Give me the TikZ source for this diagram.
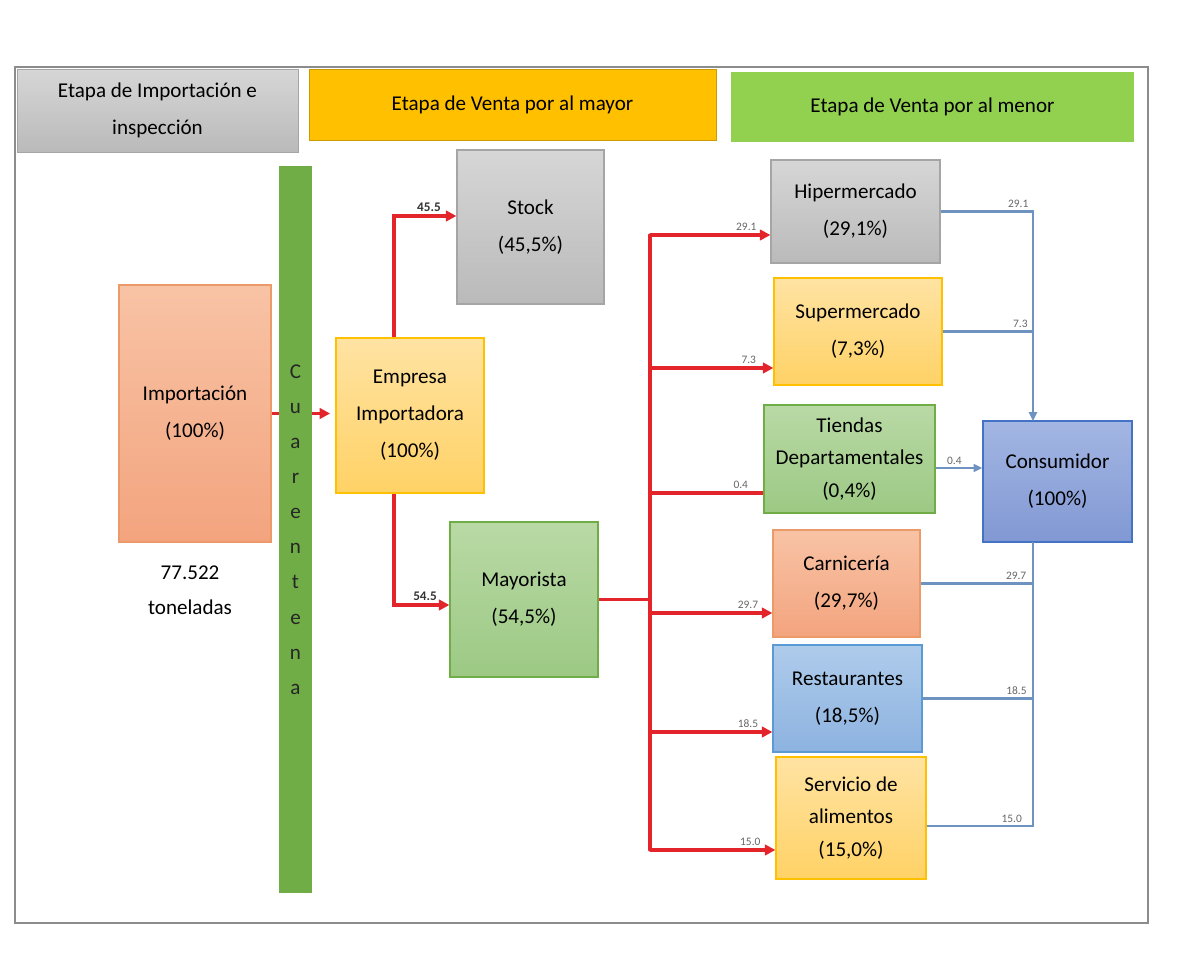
\documentclass[tikz,border=0pt]{standalone}
\usepackage{fontspec}
\setmainfont{Carlito}
\usetikzlibrary{arrows.meta,calc}
\begin{document}
\begin{tikzpicture}[x=0.02cm,y=-0.02cm,
    caja/.style={draw,line width=0.7pt,align=center,inner sep=2pt,
        font=\fontsize{12}{21}\selectfont},
    tres/.style={font=\fontsize{12}{18.5}\selectfont},
    gris/.style={caja,top color=gA,bottom color=gB,draw=gC},
    naranja/.style={caja,top color=nA,bottom color=nB,draw=nC},
    verde/.style={caja,top color=vA,bottom color=vB,draw=vC},
    salmon/.style={caja,top color=sA,bottom color=sB,draw=sC},
    celeste/.style={caja,top color=cA,bottom color=cB,draw=cC},
    lila/.style={caja,top color=lA,bottom color=lB,draw=lC},
    etapa/.style={align=center,inner sep=2pt,font=\fontsize{12}{21}\selectfont},
    rojo/.style={draw=rr,line width=1.8pt},
    flechaR/.style={rojo,-{Triangle[length=6pt,width=6pt]}},
    azul/.style={draw=bl,line width=1.2pt},
    flechaA/.style={azul,-{Triangle[length=5pt,width=4.5pt]}},
    num/.style={font=\fontsize{6.5}{7}\selectfont,text=black!60,inner sep=1.5pt},
    numN/.style={font=\bfseries\fontsize{7.5}{8}\selectfont,text=black!80,inner sep=1.5pt}]
        %colores
        \definecolor{gA}{HTML}{D6D6D6}\definecolor{gB}{HTML}{BABABA}\definecolor{gC}{HTML}{A5A5A5}
        \definecolor{nA}{HTML}{FFE3A3}\definecolor{nB}{HTML}{FFD266}\definecolor{nC}{HTML}{FFC000}
        \definecolor{vA}{HTML}{B9D9A5}\definecolor{vB}{HTML}{9CC984}\definecolor{vC}{HTML}{70AD47}
        \definecolor{sA}{HTML}{F8C3A5}\definecolor{sB}{HTML}{F3A47E}\definecolor{sC}{HTML}{ED9A6A}
        \definecolor{cA}{HTML}{AECBEB}\definecolor{cB}{HTML}{8DB3E0}\definecolor{cC}{HTML}{5B9BD5}
        \definecolor{lA}{HTML}{A3B6E3}\definecolor{lB}{HTML}{8198D3}\definecolor{lC}{HTML}{4472C4}
        \definecolor{mA}{HTML}{92D050}
        \definecolor{rr}{HTML}{E3242B}
        \definecolor{bl}{HTML}{6F93C0}
        \colorlet{marco}{black!45}

        \useasboundingbox (0,0) rectangle (1190,979);
        \draw[marco,line width=0.6pt] (15,67) rectangle (1148,923);

        % Etapas
        \node[etapa,top color=gA,bottom color=gB,draw=gC,minimum width=5.62cm,minimum height=1.66cm]
            (etImp) at (157.5,110.5) {Etapa de Importación e\\inspección};
        \node[etapa,fill=nC,draw=nC!80!black,minimum width=8.14cm,minimum height=1.42cm]
            (etMay) at (512.5,104.5) {Etapa de Venta por al mayor};
        \node[etapa,fill=mA,minimum width=8.06cm,minimum height=1.40cm]
            (etMen) at (932.5,107) {Etapa de Venta por al menor};

        % Importacion y cuarentena
        \node[salmon,minimum width=3.04cm,minimum height=5.14cm] (imp) at (195,413.5) {Importación\\(100\%)};
        \node[align=center,font=\fontsize{12}{20}\selectfont] (ton) at (190,590) {77.522\\toneladas};
        \node[naranja,minimum width=2.96cm,minimum height=3.10cm] (emp) at (410,415.5) {Empresa\\Importadora\\(100\%)};
        \node[fill=vC,minimum width=0.66cm,minimum height=14.54cm,align=center,inner sep=0pt,
            font=\fontsize{12}{20}\selectfont,text=black!85] (barra) at (295.5,529.5) {C\\u\\a\\r\\e\\n\\t\\e\\n\\a};
        \draw[rojo] (imp.east) -- (imp.east -| barra.west);
        \draw[flechaR,shorten >=3pt] (imp.east -| barra.east) -- (imp.east -| emp.west);

        % Venta por mayor
        \node[gris,minimum width=2.94cm,minimum height=3.08cm] (stock) at (530.5,227) {Stock\\(45,5\%)};
        \node[verde,minimum width=2.96cm,minimum height=3.10cm] (may) at (524,599.5) {Mayorista\\(54,5\%)};
        \draw[flechaR] ([xshift=-0.32cm]emp.north) |- node[numN,pos=0.78,above] {45.5} ([yshift=0.22cm]stock.west);
        \draw[flechaR] ([xshift=-0.32cm]emp.south) |- node[numN,pos=0.78,above] {54.5} ([yshift=-0.11cm]may.west);

        % Venta por menor
        \node[gris,minimum width=3.38cm,minimum height=2.06cm] (hiper) at (855.5,211.5) {Hipermercado\\(29,1\%)};
        \node[naranja,minimum width=3.36cm,minimum height=2.14cm] (super) at (858,331.5) {Supermercado\\(7,3\%)};
        \node[verde,tres,minimum width=3.42cm,minimum height=2.16cm] (tiendas) at (849.5,459) {Tiendas\\Departamentales\\(0,4\%)};
        \node[salmon,minimum width=2.94cm,minimum height=2.14cm] (carn) at (846.5,583.5) {Carnicería\\(29,7\%)};
        \node[celeste,minimum width=2.98cm,minimum height=2.14cm] (rest) at (847.5,698.5) {Restaurantes\\(18,5\%)};
        \node[naranja,tres,minimum width=3.00cm,minimum height=2.44cm] (serv) at (851,818) {Servicio de\\alimentos\\(15,0\%)};
        \node[lila,minimum width=2.98cm,minimum height=2.42cm] (cons) at (1057.5,481.5) {Consumidor\\(100\%)};

        % Reparto rojo
        \coordinate (bus) at (650,598);
        \draw[rojo] (may.east) -- (may.east -| bus);
        \foreach \n/\dy/\v/\est in {hiper/23.5/29.1/flechaR,super/36.5/7.3/flechaR,tiendas/34/0.4/rojo,
                carn/29.5/29.7/flechaR,rest/33.5/18.5/flechaR,serv/32/15.0/flechaR}{
            \coordinate (e\n) at ($(\n.west)+(0,\dy)$);
            \draw[\est] (bus |- e\n) -- node[num,pos=0.8,above] {\v} (e\n);
        }
        \draw[rojo,line cap=round] (bus |- ehiper) -- (bus |- eserv);

        % Hacia el consumidor
        \coordinate (ctop) at (1033,421);
        \coordinate (cbot) at (1033,542);
        \draw[flechaA] (hiper.east) -| node[num,pos=0.42,above] {29.1} (ctop);
        \draw[azul] (super.east) -- node[num,pos=0.86,above] {7.3} (super.east -| ctop);
        \draw[flechaA] ([yshift=-0.18cm]tiendas.east) -- node[num,pos=0.4,above] {0.4} ([yshift=-0.18cm]tiendas.east -| cons.west);
        \draw[azul] (carn.east) -- node[num,pos=0.85,above] {29.7} (carn.east -| cbot);
        \draw[azul] (rest.east) -- node[num,pos=0.85,above] {18.5} (rest.east -| cbot);
        \draw[azul] ([yshift=-0.16cm]serv.east) -| node[num,pos=0.4,above] {15.0} (cbot);
\end{tikzpicture}
\end{document}
